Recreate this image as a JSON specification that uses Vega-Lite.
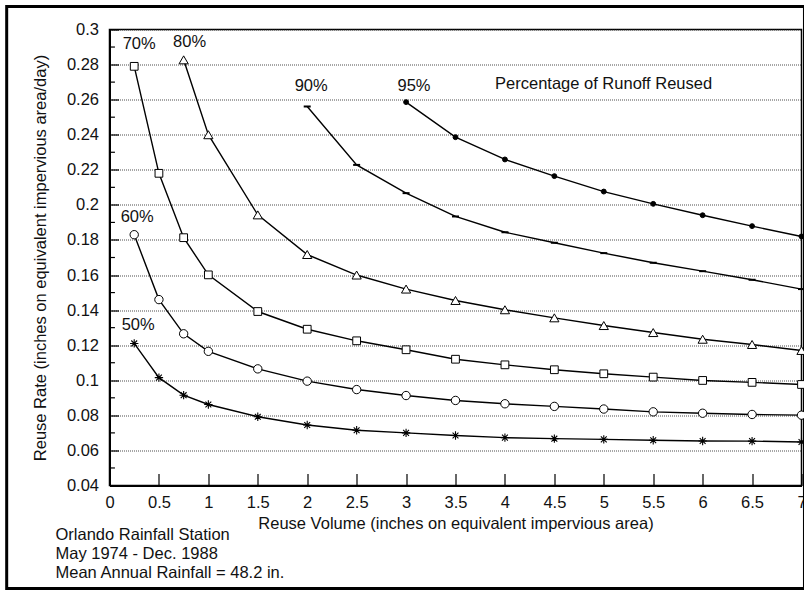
{
  "$schema": "https://vega.github.io/schema/vega-lite/v6.json",
  "width": 692,
  "height": 456,
  "padding": {"left": 4.5, "top": 4.5, "right": 0, "bottom": 0},
  "background": "white",
  "config": {
    "font": "Liberation Sans",
    "view": {"stroke": "black", "strokeWidth": 1.5},
    "axis": {"labelFont": "Liberation Sans", "titleFont": "Liberation Sans", "labelColor": "#111", "titleColor": "#111", "domainColor": "black", "tickColor": "black", "labelFontSize": 16.5, "titleFontSize": 16.5, "titleFontWeight": "normal", "labelOverlap": false, "labelBound": false, "labelFlush": false}
  },
  "title": {
    "text": ["Orlando Rainfall Station", "May 1974 - Dec. 1988", "Mean Annual Rainfall = 48.2 in."],
    "orient": "bottom",
    "anchor": "start",
    "frame": "group",
    "dx": -54,
    "offset": -63,
    "fontSize": 16.5,
    "fontWeight": "normal",
    "font": "Liberation Sans",
    "lineHeight": 19,
    "color": "#111"
  },
  "data": {"values": [
    {"pct": "50%", "volume": 0.25, "rate": 0.121},
    {"pct": "50%", "volume": 0.5, "rate": 0.1015},
    {"pct": "50%", "volume": 0.75, "rate": 0.0915},
    {"pct": "50%", "volume": 1, "rate": 0.0862},
    {"pct": "50%", "volume": 1.5, "rate": 0.0792},
    {"pct": "50%", "volume": 2, "rate": 0.0745},
    {"pct": "50%", "volume": 2.5, "rate": 0.0715},
    {"pct": "50%", "volume": 3, "rate": 0.07},
    {"pct": "50%", "volume": 3.5, "rate": 0.0685},
    {"pct": "50%", "volume": 4, "rate": 0.0673},
    {"pct": "50%", "volume": 4.5, "rate": 0.0667},
    {"pct": "50%", "volume": 5, "rate": 0.0663},
    {"pct": "50%", "volume": 5.5, "rate": 0.0658},
    {"pct": "50%", "volume": 6, "rate": 0.0654},
    {"pct": "50%", "volume": 6.5, "rate": 0.0653},
    {"pct": "50%", "volume": 7, "rate": 0.0648},
    {"pct": "60%", "volume": 0.25, "rate": 0.183},
    {"pct": "60%", "volume": 0.5, "rate": 0.146},
    {"pct": "60%", "volume": 0.75, "rate": 0.1265},
    {"pct": "60%", "volume": 1, "rate": 0.1165},
    {"pct": "60%", "volume": 1.5, "rate": 0.1065},
    {"pct": "60%", "volume": 2, "rate": 0.0995},
    {"pct": "60%", "volume": 2.5, "rate": 0.0947},
    {"pct": "60%", "volume": 3, "rate": 0.0913},
    {"pct": "60%", "volume": 3.5, "rate": 0.0885},
    {"pct": "60%", "volume": 4, "rate": 0.0866},
    {"pct": "60%", "volume": 4.5, "rate": 0.0851},
    {"pct": "60%", "volume": 5, "rate": 0.0836},
    {"pct": "60%", "volume": 5.5, "rate": 0.082},
    {"pct": "60%", "volume": 6, "rate": 0.0812},
    {"pct": "60%", "volume": 6.5, "rate": 0.0805},
    {"pct": "60%", "volume": 7, "rate": 0.0801},
    {"pct": "70%", "volume": 0.25, "rate": 0.279},
    {"pct": "70%", "volume": 0.5, "rate": 0.218},
    {"pct": "70%", "volume": 0.75, "rate": 0.1813},
    {"pct": "70%", "volume": 1, "rate": 0.1601},
    {"pct": "70%", "volume": 1.5, "rate": 0.1392},
    {"pct": "70%", "volume": 2, "rate": 0.1291},
    {"pct": "70%", "volume": 2.5, "rate": 0.1225},
    {"pct": "70%", "volume": 3, "rate": 0.1174},
    {"pct": "70%", "volume": 3.5, "rate": 0.112},
    {"pct": "70%", "volume": 4, "rate": 0.1088},
    {"pct": "70%", "volume": 4.5, "rate": 0.106},
    {"pct": "70%", "volume": 5, "rate": 0.1037},
    {"pct": "70%", "volume": 5.5, "rate": 0.1018},
    {"pct": "70%", "volume": 6, "rate": 0.0999},
    {"pct": "70%", "volume": 6.5, "rate": 0.0988},
    {"pct": "70%", "volume": 7, "rate": 0.0976},
    {"pct": "80%", "volume": 0.75, "rate": 0.2827},
    {"pct": "80%", "volume": 1, "rate": 0.24},
    {"pct": "80%", "volume": 1.5, "rate": 0.1943},
    {"pct": "80%", "volume": 2, "rate": 0.1717},
    {"pct": "80%", "volume": 2.5, "rate": 0.16},
    {"pct": "80%", "volume": 3, "rate": 0.152},
    {"pct": "80%", "volume": 3.5, "rate": 0.1455},
    {"pct": "80%", "volume": 4, "rate": 0.1402},
    {"pct": "80%", "volume": 4.5, "rate": 0.1356},
    {"pct": "80%", "volume": 5, "rate": 0.1312},
    {"pct": "80%", "volume": 5.5, "rate": 0.1272},
    {"pct": "80%", "volume": 6, "rate": 0.1234},
    {"pct": "80%", "volume": 6.5, "rate": 0.1204},
    {"pct": "80%", "volume": 7, "rate": 0.117},
    {"pct": "90%", "volume": 2, "rate": 0.2561},
    {"pct": "90%", "volume": 2.5, "rate": 0.2228},
    {"pct": "90%", "volume": 3, "rate": 0.2067},
    {"pct": "90%", "volume": 3.5, "rate": 0.1934},
    {"pct": "90%", "volume": 4, "rate": 0.1844},
    {"pct": "90%", "volume": 4.5, "rate": 0.1784},
    {"pct": "90%", "volume": 5, "rate": 0.1725},
    {"pct": "90%", "volume": 5.5, "rate": 0.167},
    {"pct": "90%", "volume": 6, "rate": 0.1622},
    {"pct": "90%", "volume": 6.5, "rate": 0.1573},
    {"pct": "90%", "volume": 7, "rate": 0.152},
    {"pct": "95%", "volume": 3, "rate": 0.2586},
    {"pct": "95%", "volume": 3.5, "rate": 0.2386},
    {"pct": "95%", "volume": 4, "rate": 0.2259},
    {"pct": "95%", "volume": 4.5, "rate": 0.2164},
    {"pct": "95%", "volume": 5, "rate": 0.2076},
    {"pct": "95%", "volume": 5.5, "rate": 0.2006},
    {"pct": "95%", "volume": 6, "rate": 0.1941},
    {"pct": "95%", "volume": 6.5, "rate": 0.1879},
    {"pct": "95%", "volume": 7, "rate": 0.182}
  ]},
  "layer": [
    {
      "mark": {"type": "line", "color": "black", "strokeWidth": 1.4},
      "encoding": {
        "x": {
          "field": "volume", "type": "quantitative",
          "scale": {"domain": [0, 7], "nice": false, "zero": false},
          "axis": {
            "title": "Reuse Volume (inches on equivalent impervious area)",
            "values": [0, 0.5, 1, 1.5, 2, 2.5, 3, 3.5, 4, 4.5, 5, 5.5, 6, 6.5, 7],
            "tickCount": 30,
            "labelExpr": "format(datum.value, '~g')",
            "tickSize": -12,
            "tickWidth": 1.2,
            "labelPadding": 21,
            "titlePadding": 4,
            "grid": false,
            "domainWidth": 2
          }
        },
        "y": {
          "field": "rate", "type": "quantitative",
          "scale": {"domain": [0.04, 0.3], "nice": false, "zero": false},
          "axis": {
            "title": "Reuse Rate (inches on equivalent impervious area/day)",
            "values": [0.04, 0.06, 0.08, 0.1, 0.12, 0.14, 0.16, 0.18, 0.2, 0.22, 0.24, 0.26, 0.28, 0.3],
            "tickCount": 30,
            "labelOverlap": false,
            "labelExpr": "format(datum.value, '~g')",
            "tickSize": -9,
            "tickWidth": 1.2,
            "grid": true,
            "gridColor": "#222",
            "gridDash": [1, 1],
            "gridWidth": 1,
            "gridOpacity": 0.8,
            "labelPadding": 20,
            "titlePadding": 18,
            "domainWidth": 2
          }
        },
        "detail": {"field": "pct", "type": "nominal"}
      }
    },
    {
      "data": {"values": [{"frame": 1}]},
      "mark": {"type": "rect", "filled": false, "stroke": "black", "strokeWidth": 3, "clip": false},
      "encoding": {
        "x": {"datum": -1.04, "type": "quantitative"},
        "x2": {"datum": 7.03},
        "y": {"datum": 0.3131, "type": "quantitative"},
        "y2": {"datum": -0.0187}
      }
    },
    {
      "data": {"values": [
        {"minor": 0.05}, {"minor": 0.07}, {"minor": 0.09}, {"minor": 0.11}, {"minor": 0.13},
        {"minor": 0.15}, {"minor": 0.17}, {"minor": 0.19}, {"minor": 0.21}, {"minor": 0.23},
        {"minor": 0.25}, {"minor": 0.27}, {"minor": 0.29}
      ]},
      "mark": {"type": "rule", "color": "black", "strokeWidth": 1.2},
      "encoding": {
        "y": {"field": "minor", "type": "quantitative"},
        "x": {"datum": 0, "type": "quantitative"},
        "x2": {"datum": 0.055}
      }
    },
    {
      "mark": {"type": "point", "filled": true, "stroke": "black", "opacity": 1},
      "encoding": {
        "x": {"field": "volume", "type": "quantitative"},
        "y": {"field": "rate", "type": "quantitative"},
        "shape": {"field": "pct", "type": "nominal", "legend": null,
          "scale": {"domain": ["50%", "60%", "70%", "80%", "90%", "95%"],
                    "range": ["M-1,0L1,0M0,-1L0,1M-0.7,-0.7L0.7,0.7M-0.7,0.7L0.7,-0.7", "circle", "square", "triangle-up", "stroke", "circle"]}},
        "fill": {"field": "pct", "type": "nominal", "legend": null,
          "scale": {"domain": ["50%", "60%", "70%", "80%", "90%", "95%"],
                    "range": ["white", "white", "white", "white", "white", "black"]}},
        "size": {"field": "pct", "type": "ordinal", "legend": null,
          "scale": {"type": "ordinal", "domain": ["50%", "60%", "70%", "80%", "90%", "95%"],
                    "range": [70, 70, 60, 85, 49, 24]}},
        "strokeWidth": {"field": "pct", "type": "ordinal", "legend": null,
          "scale": {"type": "ordinal", "domain": ["50%", "60%", "70%", "80%", "90%", "95%"],
                    "range": [1.1, 1, 1, 1, 2, 1]}}
      }
    },
    {
      "data": {"values": [
        {"label": "70%", "volume": 0.3, "rate": 0.2915},
        {"label": "80%", "volume": 0.81, "rate": 0.293},
        {"label": "90%", "volume": 2.04, "rate": 0.268},
        {"label": "95%", "volume": 3.08, "rate": 0.268},
        {"label": "60%", "volume": 0.28, "rate": 0.193},
        {"label": "50%", "volume": 0.29, "rate": 0.1316}
      ]},
      "mark": {"type": "text", "font": "Liberation Sans", "fontSize": 16.5, "align": "center", "baseline": "middle", "color": "#111"},
      "encoding": {
        "x": {"field": "volume", "type": "quantitative"},
        "y": {"field": "rate", "type": "quantitative"},
        "text": {"field": "label"}
      }
    },
    {
      "data": {"values": [{"label": "Percentage of Runoff Reused", "volume": 3.9, "rate": 0.2692}]},
      "mark": {"type": "text", "font": "Liberation Sans", "fontSize": 16.5, "align": "left", "baseline": "middle", "color": "#111"},
      "encoding": {
        "x": {"field": "volume", "type": "quantitative"},
        "y": {"field": "rate", "type": "quantitative"},
        "text": {"field": "label"}
      }
    }
  ]
}
